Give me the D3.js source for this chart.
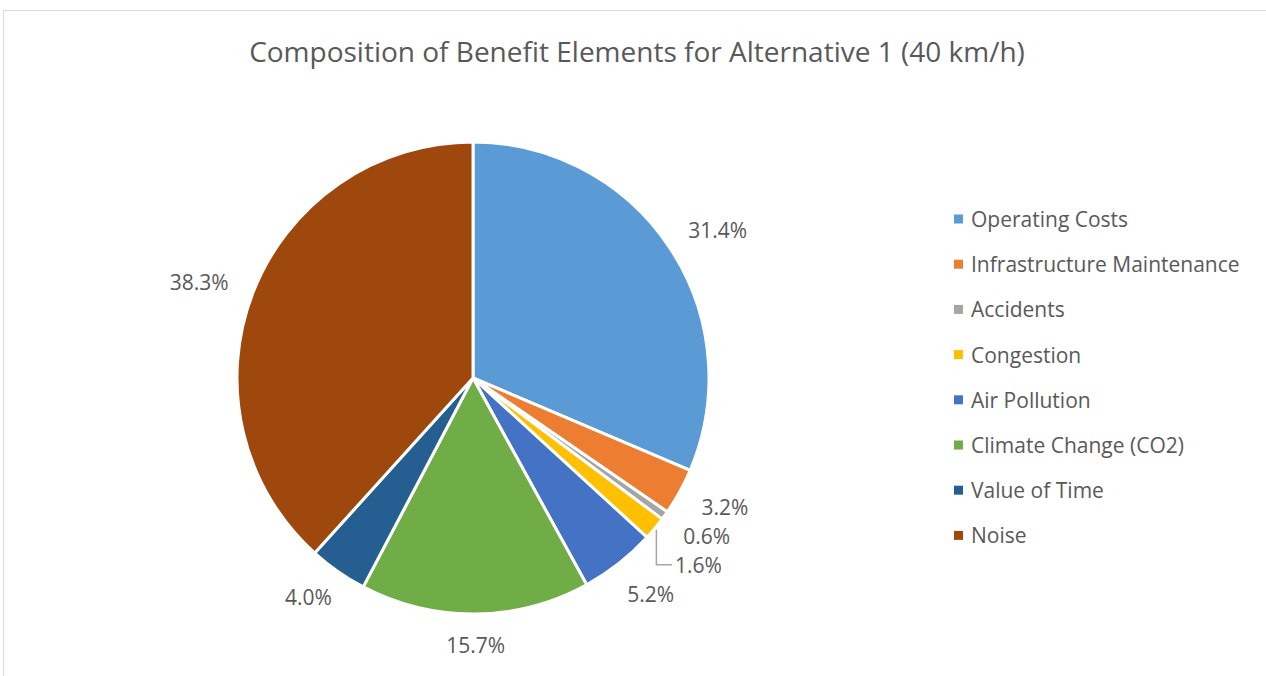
<!DOCTYPE html>
<html>
<head>
<meta charset="utf-8">
<script src="https://cdn.jsdelivr.net/npm/d3@7"></script>
<style>
  html, body { margin: 0; padding: 0; background: #fff; }
  svg { display: block; }
</style>
</head>
<body>
<svg id="chart" width="1266" height="676"></svg>
<script>
// Benefit elements and their share of the total benefit (%)
const categories = [
  "Operating Costs",
  "Infrastructure Maintenance",
  "Accidents",
  "Congestion",
  "Air Pollution",
  "Climate Change (CO2)",
  "Value of Time",
  "Noise"
];
const shares = [31.4, 3.2, 0.6, 1.6, 5.2, 15.7, 4.0, 38.3];
const colors = ["#5B9BD5", "#ED7D31", "#A5A5A5", "#FFC000", "#4472C4", "#70AD47", "#255E91", "#9E480E"];
const titleText = "Composition of Benefit Elements for Alternative 1 (40 km/h)";

const FONT = "'Open Sans', 'Segoe UI', sans-serif";
const TEXT = "#595959";

const svg = d3.select("#chart");
const W = 1266, H = 676;

// chart-area frame
svg.append("rect")
  .attr("x", 3.5).attr("y", 10.5)
  .attr("width", W + 10).attr("height", H + 10)
  .attr("fill", "#fff")
  .attr("stroke", "#d9d9d9").attr("stroke-width", 1);

// title
svg.append("text")
  .attr("x", 637).attr("y", 62)
  .attr("text-anchor", "middle")
  .attr("font-family", FONT)
  .attr("font-size", 28)
  .attr("fill", TEXT)
  .text(titleText);

const data = categories.map((c, i) => ({ name: c, value: shares[i], color: colors[i] }));

const cx = 473, cy = 378, R = 236;
const pie = d3.pie().value(d => d.value).sort(null);
const arcs = pie(data);
const arc = d3.arc().innerRadius(0).outerRadius(R);

const g = svg.append("g").attr("transform", `translate(${cx},${cy})`);

g.selectAll("path.slice")
  .data(arcs)
  .join("path")
  .attr("class", "slice")
  .attr("d", arc)
  .attr("fill", d => d.data.color)
  .attr("stroke", "#fff")
  .attr("stroke-width", 3)
  .attr("stroke-linejoin", "round");

// data labels: outside end (label box with padding), nudged down when crowded
const labelFont = 21;
const gapR = 18;
const padX = 10, padY = 3;
const lineH = 29;
const fmt = v => v.toFixed(1) + "%";

const measure = svg.append("text")
  .attr("font-family", FONT).attr("font-size", labelFont)
  .attr("visibility", "hidden");

const labels = arcs.map(a => {
  const mid = (a.startAngle + a.endAngle) / 2;
  const s = Math.sin(mid), c = Math.cos(mid);
  measure.text(fmt(a.data.value));
  const w = measure.node().getComputedTextLength();
  const bw = w + 2 * padX, bh = labelFont + 2 * padY;
  const px = (R + gapR) * s, py = -(R + gapR) * c;
  const y0 = py - c * bh / 2;
  return {
    s, c, w,
    x: px + s * bw / 2,
    y: y0,
    baseY: y0,
    text: fmt(a.data.value)
  };
});
measure.remove();

// resolve overlaps on the lower-right side (walk clockwise)
for (let i = 1; i < labels.length; i++) {
  const L = labels[i], P = labels[i - 1];
  if (L.s > 0 && P.s > 0 && L.c < 0 && P.c < 0) {
    if (L.y - P.y < lineH) L.y = P.y + lineH;
  }
}

labels.forEach(L => {
  const shifted = L.y - L.baseY > 12;
  if (shifted) {
    L.x += 4;
    // leader line from the slice edge down to the label
    const ex = (R + 2) * L.s, ey = -(R + 2) * L.c;
    const lx = L.x - L.w / 2 - 3;
    g.append("path")
      .attr("d", `M${ex},${ey}V${L.y}H${lx}`)
      .attr("fill", "none")
      .attr("stroke", "#A6A6A6")
      .attr("stroke-width", 1.5);
  }
  g.append("text")
    .attr("x", L.x).attr("y", L.y)
    .attr("text-anchor", "middle")
    .attr("dominant-baseline", "central")
    .attr("font-family", FONT)
    .attr("font-size", labelFont)
    .attr("fill", TEXT)
    .text(L.text);
});

// legend
const legend = svg.append("g").attr("transform", "translate(954,219)");
const rowH = 45.2;
const items = legend.selectAll("g")
  .data(data)
  .join("g")
  .attr("transform", (d, i) => `translate(0,${i * rowH})`);
items.append("rect")
  .attr("x", 0).attr("y", -4.5)
  .attr("width", 9).attr("height", 9)
  .attr("fill", d => d.color);
items.append("text")
  .attr("x", 17).attr("y", 0)
  .attr("dominant-baseline", "central")
  .attr("font-family", FONT)
  .attr("font-size", 21)
  .attr("fill", TEXT)
  .text(d => d.name);
</script>
</body>
</html>
